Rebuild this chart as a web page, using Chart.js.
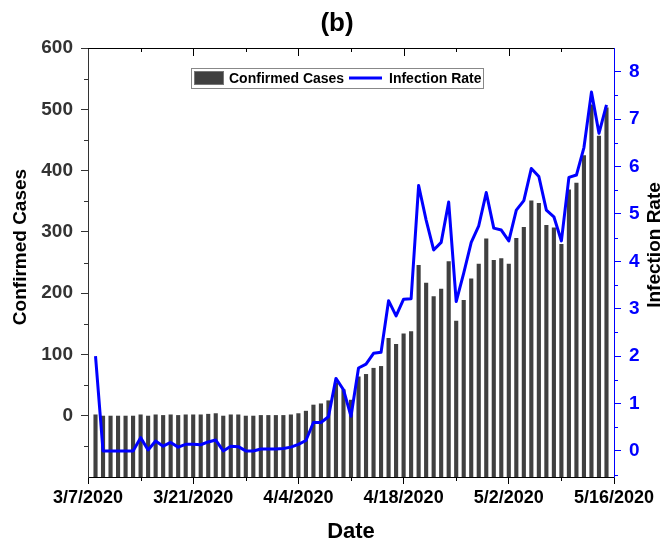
<!DOCTYPE html>
<html>
<head>
<meta charset="utf-8">
<script src="https://cdn.jsdelivr.net/npm/chart.js@4.4.1/dist/chart.umd.min.js"></script>
<style>
  html, body { margin: 0; padding: 0; background: #fff; }
</style>
</head>
<body>
<canvas id="chart" width="669" height="545"></canvas>
<script>
// Data
const dates = [
  '3/8/2020', '3/9/2020', '3/10/2020', '3/11/2020', '3/12/2020', '3/13/2020', '3/14/2020', '3/15/2020',
  '3/16/2020', '3/17/2020', '3/18/2020', '3/19/2020', '3/20/2020', '3/21/2020', '3/22/2020', '3/23/2020',
  '3/24/2020', '3/25/2020', '3/26/2020', '3/27/2020', '3/28/2020', '3/29/2020', '3/30/2020', '3/31/2020',
  '4/1/2020', '4/2/2020', '4/3/2020', '4/4/2020', '4/5/2020', '4/6/2020', '4/7/2020', '4/8/2020',
  '4/9/2020', '4/10/2020', '4/11/2020', '4/12/2020', '4/13/2020', '4/14/2020', '4/15/2020', '4/16/2020',
  '4/17/2020', '4/18/2020', '4/19/2020', '4/20/2020', '4/21/2020', '4/22/2020', '4/23/2020', '4/24/2020',
  '4/25/2020', '4/26/2020', '4/27/2020', '4/28/2020', '4/29/2020', '4/30/2020', '5/1/2020', '5/2/2020',
  '5/3/2020', '5/4/2020', '5/5/2020', '5/6/2020', '5/7/2020', '5/8/2020', '5/9/2020', '5/10/2020',
  '5/11/2020', '5/12/2020', '5/13/2020', '5/14/2020', '5/15/2020'
];

const confirmedCases = [
  2, 0, 0, 0, 0, 0, 2, 0, 2, 1,
  2, 1, 2, 2, 2, 3, 4, 0, 2, 2,
  0, 0, 1, 1, 1, 1, 2, 4, 8, 18,
  20, 25, 54, 43, 26, 64, 68, 78, 81, 127,
  117, 134, 138, 246, 217, 195, 207, 252, 155, 189,
  224, 248, 289, 254, 257, 248, 290, 308, 351, 347,
  311, 307, 280, 369, 380, 425, 508, 457, 503
];

const infectionRate = [
  2.0, 0, 0, 0, 0, 0, 0.28, 0.02, 0.21, 0.1,
  0.18, 0.08, 0.14, 0.14, 0.13, 0.19, 0.23, 0, 0.1, 0.09,
  0, 0, 0.04, 0.04, 0.04, 0.05, 0.08, 0.14, 0.22, 0.6,
  0.6, 0.72, 1.53, 1.29, 0.73, 1.75, 1.83, 2.06, 2.08, 3.17,
  2.85, 3.2, 3.21, 5.6, 4.87, 4.24, 4.4, 5.25, 3.15, 3.75,
  4.4, 4.75, 5.45, 4.7, 4.66, 4.43, 5.08, 5.28, 5.96, 5.79,
  5.08, 4.94, 4.43, 5.77, 5.82, 6.4, 7.57, 6.7, 7.3
];

const xTickLabels = ['3/7/2020', '3/21/2020', '4/4/2020', '4/18/2020', '5/2/2020', '5/16/2020'];
const casesTicks = [0, 100, 200, 300, 400, 500, 600];
const rateTicks = [0, 1, 2, 3, 4, 5, 6, 7, 8];

// dates -> days after the first axis date
const toUTC = (s) => {
  const [m, d, y] = s.split('/').map(Number);
  return Date.UTC(y, m - 1, d);
};
const startDay = toUTC(xTickLabels[0]);
const dayOf = (s) => Math.round((toUTC(s) - startDay) / 864e5);
const xTickValues = xTickLabels.map(dayOf);

const casesPoints = dates.map((d, i) => ({ x: dayOf(d), y: confirmedCases[i] }));
const ratePoints = dates.map((d, i) => ({ x: dayOf(d), y: infectionRate[i] }));

const BLUE = '#0000ff';
const BAR = '#404040';
Chart.defaults.font.family = "'Liberation Sans', Arial, Helvetica, sans-serif";

// Frame, minor ticks, axis titles and the in-plot legend
const decorations = {
  id: 'decorations',
  afterDraw(chart) {
    const { ctx, chartArea: a, scales } = chart;
    const x = scales.x, y = scales.y, y1 = scales.y1;
    const seg = (x0, y0, x1, y1p) => {
      ctx.beginPath(); ctx.moveTo(x0, y0); ctx.lineTo(x1, y1p); ctx.stroke();
    };
    ctx.save();
    ctx.lineWidth = 1;

    // top border with inward ticks
    ctx.strokeStyle = '#000';
    seg(a.left, a.top + 0.5, a.right, a.top + 0.5);
    const last = xTickValues[xTickValues.length - 1];
    for (let d = 7; d < last; d += 7) {
      const px = Math.round(x.getPixelForValue(d)) + 0.5;
      seg(px, a.top, px, a.top + (d % 14 === 0 ? 8 : 4));
    }
    // bottom minor ticks
    for (let d = 7; d < last; d += 14) {
      const px = Math.round(x.getPixelForValue(d)) + 0.5;
      seg(px, a.bottom, px, a.bottom + 4);
    }
    // left minor ticks
    ctx.strokeStyle = '#333';
    for (let v = -50; v < 600; v += 100) {
      const py = Math.round(y.getPixelForValue(v)) + 0.5;
      seg(a.left - 4, py, a.left, py);
    }
    // right minor ticks
    ctx.strokeStyle = BLUE;
    for (let v = -0.5; v < 8; v += 1) {
      const py = Math.round(y1.getPixelForValue(v)) + 0.5;
      seg(a.right, py, a.right + 4, py);
    }

    // y axis titles, both reading bottom to top
    ctx.fillStyle = '#000';
    ctx.font = "bold 19px 'Liberation Sans', Arial, sans-serif";
    ctx.textAlign = 'center';
    ctx.textBaseline = 'middle';
    ctx.save();
    ctx.translate(21, 247);
    ctx.rotate(-Math.PI / 2);
    ctx.fillText('Confirmed Cases', 0, 0);
    ctx.restore();
    ctx.save();
    ctx.translate(655, 245);
    ctx.rotate(-Math.PI / 2);
    ctx.fillText('Infection Rate', 0, 0);
    ctx.restore();

    // title
    ctx.font = "bold 26px 'Liberation Sans', Arial, sans-serif";
    ctx.fillText('(b)', 337, 24);

    // legend
    const lx = 191, ly = 68, lw = 292, lh = 20;
    ctx.fillStyle = '#fff';
    ctx.fillRect(lx, ly, lw, lh);
    ctx.strokeStyle = '#888';
    ctx.strokeRect(lx + 0.5, ly + 0.5, lw, lh);
    const ds = chart.data.datasets;
    ctx.font = "bold 14px 'Liberation Sans', Arial, sans-serif";
    ctx.textAlign = 'left';
    ctx.fillStyle = ds[1].backgroundColor;
    ctx.fillRect(lx + 3, ly + 3, 30, 14);
    ctx.strokeStyle = '#777';
    ctx.strokeRect(lx + 3.5, ly + 3.5, 29, 13);
    ctx.fillStyle = '#000';
    ctx.fillText(ds[1].label, lx + 38, ly + lh / 2 + 1);
    ctx.strokeStyle = ds[0].borderColor;
    ctx.lineWidth = 3;
    seg(lx + 158, ly + lh / 2, lx + 191, ly + lh / 2);
    ctx.fillText(ds[0].label, lx + 198, ly + lh / 2 + 1);
    ctx.restore();
  }
};

new Chart(document.getElementById('chart'), {
  type: 'bar',
  data: {
    datasets: [
      {
        type: 'line',
        label: 'Infection Rate',
        data: ratePoints,
        yAxisID: 'y1',
        borderColor: BLUE,
        backgroundColor: BLUE,
        borderWidth: 3,
        borderJoinStyle: 'round',
        pointRadius: 0,
        tension: 0,
        order: 0
      },
      {
        type: 'bar',
        label: 'Confirmed Cases',
        data: casesPoints,
        yAxisID: 'y',
        base: -100,
        backgroundColor: BAR,
        barPercentage: 0.55,
        categoryPercentage: 1,
        order: 1
      }
    ]
  },
  options: {
    responsive: false,
    animation: false,
    layout: { padding: { top: 48, left: 0, right: 0, bottom: 0 } },
    plugins: {
      legend: { display: false },
      title: { display: false },
      tooltip: { enabled: false }
    },
    scales: {
      x: {
        type: 'linear',
        offset: false,
        min: xTickValues[0],
        max: xTickValues[xTickValues.length - 1],
        afterBuildTicks: (s) => { s.ticks = xTickValues.map(v => ({ value: v })); },
        afterFit: (s) => { s.height = 68; },
        grid: { offset: false, drawOnChartArea: false, tickLength: 7, color: '#000' },
        border: { color: '#000', width: 1 },
        ticks: {
          color: '#000',
          padding: 3,
          maxRotation: 0,
          font: { size: 18, weight: 'bold' },
          callback: (v) => xTickLabels[xTickValues.indexOf(v)]
        },
        title: {
          display: true,
          text: 'Date',
          color: '#000',
          font: { size: 22, weight: 'bold' },
          padding: { top: 0, bottom: 0 }
        }
      },
      y: {
        position: 'left',
        min: -100,
        max: 600,
        afterBuildTicks: (s) => { s.ticks = casesTicks.map(v => ({ value: v })); },
        afterFit: (s) => { s.width = 88; },
        grid: { drawOnChartArea: false, tickLength: 7, color: '#333' },
        border: { color: '#333', width: 1 },
        ticks: { color: '#333', padding: 8, font: { size: 19, weight: 'bold' } }
      },
      y1: {
        position: 'right',
        min: -0.55,
        max: 8.5,
        afterBuildTicks: (s) => { s.ticks = rateTicks.map(v => ({ value: v })); },
        afterFit: (s) => { s.width = 55; },
        grid: { drawOnChartArea: false, tickLength: 7, color: BLUE },
        border: { color: BLUE, width: 1 },
        ticks: { color: BLUE, padding: 8, font: { size: 19, weight: 'bold' } }
      }
    }
  },
  plugins: [decorations]
});
</script>
</body>
</html>
